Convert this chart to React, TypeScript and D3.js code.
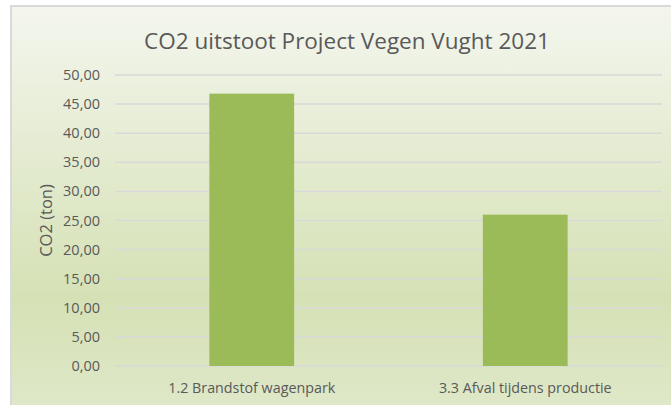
import { useEffect, useRef } from 'react';
import * as d3 from 'd3';

const categories = ['1.2 Brandstof wagenpark', '3.3 Afval tijdens productie'];
const values = [46.8, 26.0];
const yTicks = [0, 5, 10, 15, 20, 25, 30, 35, 40, 45, 50];
const title = 'CO2 uitstoot Project Vegen Vught 2021';
const yLabel = 'CO2 (ton)';

const WIDTH = 671;
const HEIGHT = 405;
const FONT = "'Open Sans', 'Noto Sans', sans-serif";

export default function App() {
  const svgRef = useRef<SVGSVGElement>(null);

  useEffect(() => {
    if (!svgRef.current) return;
    const svg = d3.select(svgRef.current);
    svg.selectAll('*').remove();

    const plot = { left: 115, right: 662, top: 75, bottom: 366 };

    // background gradient like the Excel chart area
    const grad = svg
      .append('defs')
      .append('linearGradient')
      .attr('id', 'bg')
      .attr('x1', 0)
      .attr('y1', 0)
      .attr('x2', 0)
      .attr('y2', 1);
    grad.append('stop').attr('offset', '0%').attr('stop-color', '#f4f6ee');
    grad.append('stop').attr('offset', '72%').attr('stop-color', '#d5e1b5');
    grad.append('stop').attr('offset', '100%').attr('stop-color', '#dfe8c9');

    svg
      .append('rect')
      .attr('x', 11)
      .attr('y', 6)
      .attr('width', WIDTH)
      .attr('height', HEIGHT)
      .attr('fill', 'url(#bg)')
      .attr('stroke', '#d9d9d9')
      .attr('stroke-width', 2);

    const x = d3
      .scaleBand<string>()
      .domain(categories)
      .range([plot.left, plot.right])
      .paddingInner(0.69)
      .paddingOuter(0.345);

    const y = d3.scaleLinear().domain([0, 50]).range([plot.bottom, plot.top]);
    const fmt = (v: number) => d3.format('.2f')(v).replace('.', ',');

    // gridlines
    svg
      .append('g')
      .selectAll('line')
      .data(yTicks)
      .join('line')
      .attr('x1', plot.left)
      .attr('x2', plot.right)
      .attr('y1', (d) => y(d))
      .attr('y2', (d) => y(d))
      .attr('stroke', '#d9d9d9')
      .attr('stroke-width', 1.5);

    // y tick labels
    svg
      .append('g')
      .selectAll('text')
      .data(yTicks)
      .join('text')
      .attr('x', 100)
      .attr('y', (d) => y(d))
      .attr('dy', '0.35em')
      .attr('text-anchor', 'end')
      .attr('font-family', FONT)
      .attr('font-size', 14.5)
      .attr('fill', '#595959')
      .text((d) => fmt(d));

    // bars
    svg
      .append('g')
      .selectAll('rect')
      .data(values)
      .join('rect')
      .attr('x', (_, i) => x(categories[i])!)
      .attr('y', (d) => y(d))
      .attr('width', x.bandwidth())
      .attr('height', (d) => y(0) - y(d))
      .attr('fill', '#9bbb59');

    // category labels
    svg
      .append('g')
      .selectAll('text')
      .data(categories)
      .join('text')
      .attr('x', (d) => x(d)! + x.bandwidth() / 2)
      .attr('y', 393)
      .attr('text-anchor', 'middle')
      .attr('font-family', FONT)
      .attr('font-size', 14.3)
      .attr('fill', '#595959')
      .text((d) => d);

    // y axis title
    svg
      .append('text')
      .attr('transform', `translate(46,${(plot.top + plot.bottom) / 2}) rotate(-90)`)
      .attr('dy', '0.35em')
      .attr('text-anchor', 'middle')
      .attr('font-family', FONT)
      .attr('font-size', 16.5)
      .attr('fill', '#595959')
      .text(yLabel);

    // title
    svg
      .append('text')
      .attr('x', 347)
      .attr('y', 49)
      .attr('text-anchor', 'middle')
      .attr('font-family', FONT)
      .attr('font-size', 22.5)
      .attr('fill', '#595959')
      .text(title);
  }, []);

  return (
    <svg
      ref={svgRef}
      width={WIDTH}
      height={HEIGHT}
      style={{ position: 'absolute', left: 0, top: 0, background: '#fff' }}
    />
  );
}
